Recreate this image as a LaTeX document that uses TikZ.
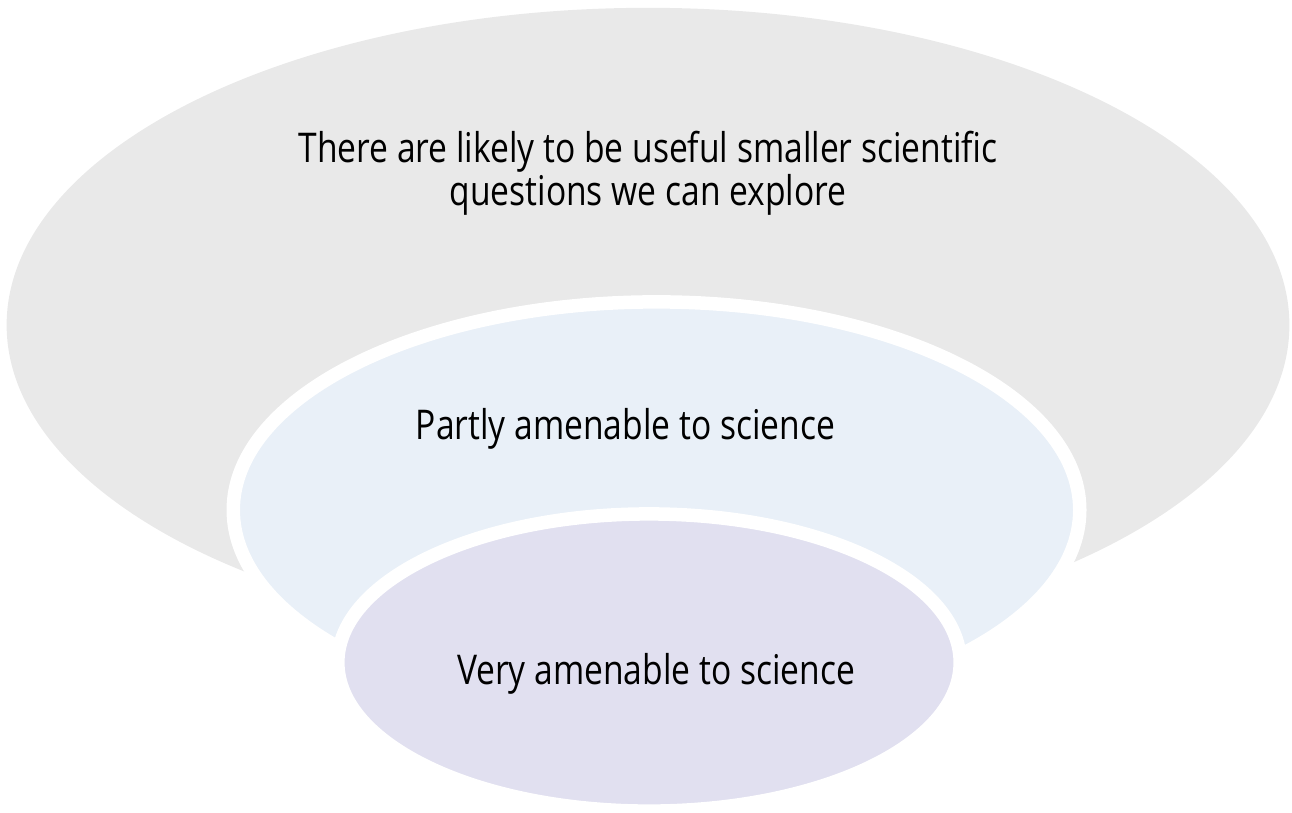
\documentclass[tikz,border=0pt]{standalone}
\usepackage{fontspec}
\newfontfamily\labelfont[FakeStretch=0.82]{Open Sans}
\definecolor{outergray}{RGB}{233,233,233}
\definecolor{middleblue}{RGB}{233,240,248}
\definecolor{innerlav}{RGB}{225,224,240}
\begin{document}
\begin{tikzpicture}[x=0.01cm,y=-0.01cm,
  ring/.style={draw=white,line width=0.135cm},
  lbl/.style={font=\labelfont\fontsize{11.65pt}{12.2pt}\selectfont,
    text=black,inner sep=0pt,align=center,anchor=base}]
\useasboundingbox (0,0) rectangle (1292,812);
% nested ellipses, largest first
\fill[outergray] (648,325) ellipse [x radius=6.41cm, y radius=3.17cm];
\path[ring,fill=middleblue] (656.5,510) ellipse [x radius=4.23cm, y radius=2.08cm];
\path[ring,fill=innerlav] (649,662.5) ellipse [x radius=3.11cm, y radius=1.485cm];
% labels (base anchor sits on the last line)
\node[lbl] (outertext) at (648,205) {There are likely to be useful smaller scientific\\questions we can explore};
\node[lbl] (middletext) at (625.5,439) {Partly amenable to science};
\node[lbl] (innertext) at (656,684) {Very amenable to science};
\end{tikzpicture}
\end{document}
